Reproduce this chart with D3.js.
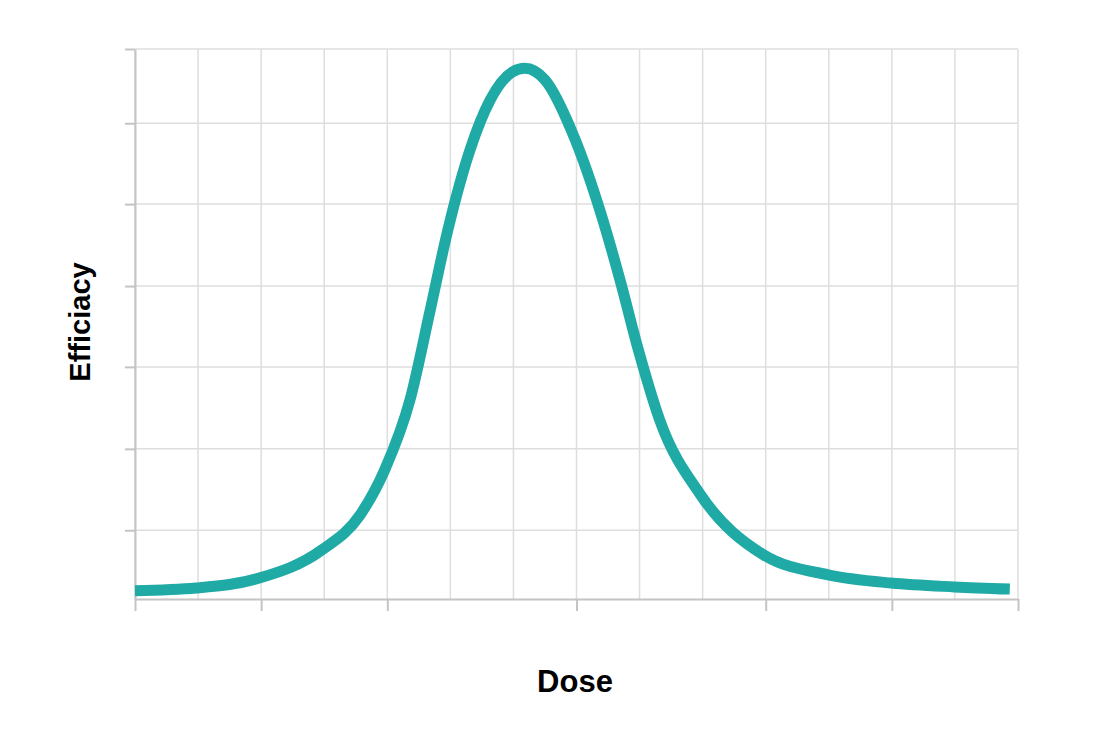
<!DOCTYPE html>
<html>
<head>
<meta charset="utf-8">
<script src="https://d3js.org/d3.v7.min.js"></script>
<style>body{margin:0;background:#fff;font-family:"Liberation Sans",Arial,sans-serif}</style>
</head>
<body>
<div id="container"></div>
<script>
const width = 1100, height = 733;
const margin = {top: 49, right: 82, bottom: 134, left: 135};

var doseValues = [0, 0.97, 1.97, 2.96, 3.57, 3.96, 4.36, 4.68, 4.96, 5.31, 5.63, 5.98, 6.18, 6.5, 6.98, 7.37, 7.69, 7.98, 8.32, 8.97, 9.97, 10.99, 11.99, 12.99, 13.87];
var efficacyValues = [1.5, 2.0, 3.8, 8.9, 15.3, 23.5, 36.2, 52.5, 67.1, 81.6, 90.7, 95.8, 96.5, 94.4, 83.5, 70.7, 58.0, 45.3, 32.5, 18.9, 8.0, 4.4, 2.9, 2.2, 1.8];
var xGrid = d3.range(0, 15);
var xTicks = [0, 2, 4, 7, 10, 12, 14];
var yTicks = [12.5, 27.3, 42.2, 56.9, 71.8, 86.5, 100];

var svg = d3.select("#container").append("svg")
  .attr("width", width).attr("height", height);

var x = d3.scaleLinear().domain([0, 14]).range([margin.left, width - margin.right]);
var y = d3.scaleLinear().domain([0, 100]).range([height - margin.bottom, margin.top]);

// grid
svg.append("g").selectAll("line").data(xGrid).enter().append("line")
  .attr("x1", d => x(d)).attr("x2", d => x(d))
  .attr("y1", y(0)).attr("y2", y(100))
  .attr("stroke", "#dedede").attr("stroke-width", 1.5);
svg.append("g").selectAll("line").data(yTicks).enter().append("line")
  .attr("x1", x(0)).attr("x2", x(14))
  .attr("y1", d => y(d)).attr("y2", d => y(d))
  .attr("stroke", "#dedede").attr("stroke-width", 1.5);

// axes
var xAxis = svg.append("g").attr("transform", "translate(0," + y(0) + ")")
  .call(d3.axisBottom(x).tickValues(xTicks).tickSize(12).tickFormat("").tickSizeOuter(0));
var yAxis = svg.append("g").attr("transform", "translate(" + x(0) + ",0)")
  .call(d3.axisLeft(y).tickValues(yTicks).tickSize(10).tickFormat("").tickSizeOuter(0));
[xAxis, yAxis].forEach(function(a){
  a.selectAll("path,line").attr("stroke", "#c4c4c4").attr("stroke-width", 2);
});

// curve
var pts = doseValues.map((d, i) => [d, efficacyValues[i]]);
svg.append("path").datum(pts)
  .attr("fill", "none").attr("stroke", "#20aaa6").attr("stroke-width", 11)
  .attr("stroke-linecap", "butt")
  .attr("d", d3.line().x(d => x(d[0])).y(d => y(d[1])).curve(d3.curveMonotoneX));

// labels
svg.append("text").attr("x", 575).attr("y", 692).attr("text-anchor", "middle")
  .style("font-size", "31px").style("font-weight", "bold").text("Dose");
svg.append("text").attr("transform", "translate(90,322) rotate(-90)").attr("text-anchor", "middle")
  .style("font-size", "29px").style("font-weight", "bold").text("Efficiacy");
</script>
</body>
</html>
